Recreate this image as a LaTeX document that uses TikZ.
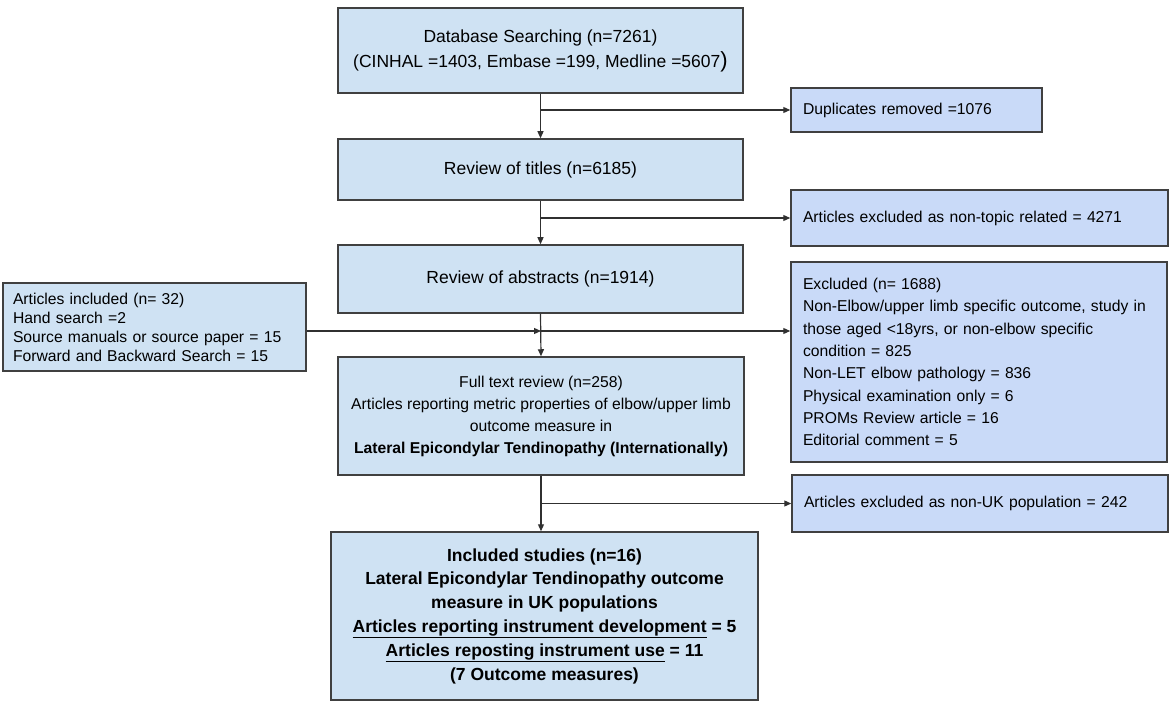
\documentclass[tikz,border=0pt]{standalone}
\usepackage{fontspec}
\setmainfont{Liberation Sans}
\usetikzlibrary{arrows.meta}
\definecolor{boxblue}{HTML}{CFE2F3}
\definecolor{sideblue}{HTML}{C9DAF8}
\definecolor{edgegray}{HTML}{404040}
\definecolor{linegray}{HTML}{303030}
\begin{document}
\begin{tikzpicture}[x=1pt,y=1pt,
  mainbox/.style={draw=edgegray, line width=1.5pt, fill=boxblue, inner sep=0pt, align=center},
  sidebox/.style={mainbox, fill=sideblue, align=left, inner xsep=12pt},
  conn/.style={draw=linegray, line width=1.2pt},
  arr/.style={conn, -{Triangle[length=7pt,width=6pt]}},
  bigf/.style={font={\fontsize{17.5}{25}\selectfont}},
  smallf/.style={font={\fontsize{15.7}{22.3}\selectfont}}
]
\useasboundingbox (0,0) rectangle (1172,-703);
\fill[white] (0,0) rectangle (1172,-703);

% main column
\node[mainbox, bigf, minimum width=405pt, minimum height=85pt] (db) at (540.5,-50.5)
  {Database Searching (n=7261)\\(CINHAL =1403, Embase =199, Medline =5607{\fontsize{22}{25}\selectfont)}};
\node[mainbox, bigf, minimum width=405pt, minimum height=61pt] (titles) at (540.5,-169.5)
  {Review of titles (n=6185)};
\node[mainbox, bigf, minimum width=405pt, minimum height=68pt] (abstracts) at (540.5,-279)
  {Review of abstracts (n=1914)};
\node[mainbox, font={\fontsize{15.7}{22}\selectfont}, minimum width=406pt, minimum height=118pt] (full) at (541,-416)
  {Full text review (n=258)\\Articles reporting metric properties of elbow/upper limb\\outcome measure in\\\textbf{Lateral Epicondylar Tendinopathy (Internationally)}};
\node[mainbox, font={\fontsize{17.5}{23.8}\selectfont\bfseries}, minimum width=427pt, minimum height=168pt] (incl) at (544.5,-616)
  {Included studies (n=16)\\Lateral Epicondylar Tendinopathy outcome\\measure in UK populations\\\underline{Articles reporting instrument development} = 5\\\underline{Articles reposting instrument use} = 11\\(7 Outcome measures)};

% side boxes
\node[sidebox, smallf, text width=227pt, minimum height=44pt] (dup) at (916.5,-110)
  {Duplicates removed =1076};
\node[sidebox, smallf, text width=353pt, minimum height=56pt] (nontopic) at (979.5,-218)
  {Articles excluded as non-topic related = 4271};
\node[sidebox, smallf, text width=352pt, minimum height=200pt] (excl) at (979,-362)
  {Excluded (n= 1688)\\Non-Elbow/upper limb specific outcome, study in\\those aged <18yrs, or non-elbow specific\\condition = 825\\Non-LET elbow pathology = 836\\Physical examination only = 6\\PROMs Review article = 16\\Editorial comment = 5};
\node[sidebox, smallf, text width=352pt, minimum height=57pt] (nonuk) at (980,-503.5)
  {Articles excluded as non-UK population = 242};
\node[mainbox, align=left, inner xsep=10pt, font={\fontsize{15.7}{19}\selectfont}, text width=283pt, minimum height=88pt] (left) at (154.5,-327)
  {Articles included (n= 32)\\Hand search =2\\Source manuals or source paper = 15\\Forward and Backward Search = 15};

% connectors
\draw[arr] (db.south) -- (titles.north);
\draw[arr] (db.south |- dup.west) -- (dup.west);
\draw[arr] (titles.south) -- (abstracts.north);
\draw[arr] (titles.south |- nontopic.west) -- (nontopic.west);
\draw[arr] (abstracts.south) -- (full.north);
\coordinate (j3) at (541,-331);
\draw[arr] (left.east |- j3) -- (j3);
\draw[arr] (j3) -- (j3 -| excl.west);
\draw[arr] (full.south) -- (full.south |- incl.north);
\draw[arr] (full.south |- nonuk.west) -- (nonuk.west);
\end{tikzpicture}
\end{document}
